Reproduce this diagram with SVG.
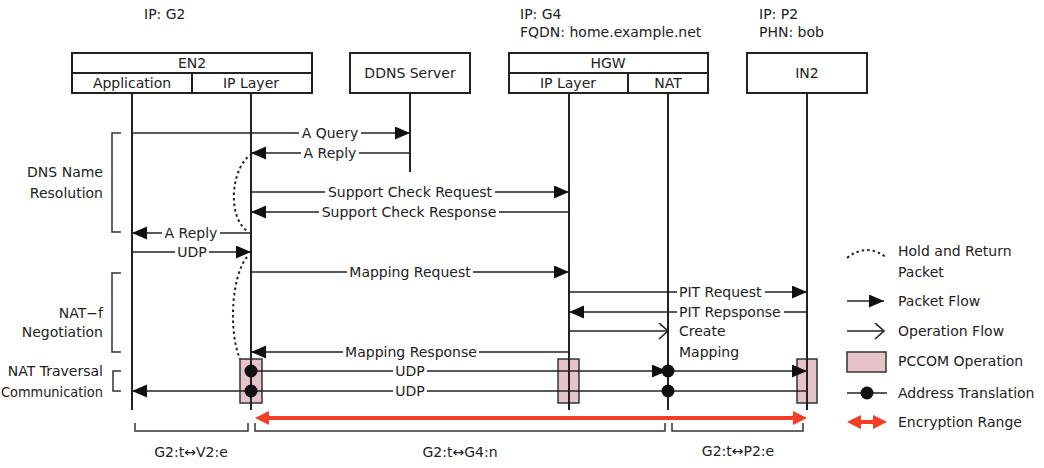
<svg xmlns="http://www.w3.org/2000/svg" width="1044" height="468" viewBox="0 0 1044 468">
<style>
text{font-family:"DejaVu Sans","Liberation Sans",sans-serif;font-size:14px;fill:#222}
.c{text-anchor:middle}
.e{text-anchor:end}
.bg{fill:#fff}
.box{fill:#fff;stroke:#222;stroke-width:2}
.life{stroke:#222;stroke-width:2;fill:none}
.ln{stroke:#222;stroke-width:1.6;fill:none}
.fa{marker-end:url(#fa)}
.oa{marker-end:url(#oa)}
.dot{fill:#111}
.pc{fill:#e6c3c8;stroke:#333;stroke-width:1.5}
.hold{stroke:#222;stroke-width:2;fill:none;stroke-dasharray:2.5,3}
.red{stroke:#f53d23;stroke-width:4;fill:none;marker-start:url(#ra);marker-end:url(#ra)}
.brk{stroke:#333;stroke-width:1.5;fill:none}
</style>
<defs>
<marker id="fa" markerWidth="16" markerHeight="14" refX="15" refY="6.5" orient="auto" markerUnits="userSpaceOnUse"><path d="M0,0 L15,6.5 L0,13 z" fill="#111"/></marker>
<marker id="oa" markerWidth="12" markerHeight="18" refX="10" refY="8" orient="auto" markerUnits="userSpaceOnUse"><path d="M1,0 L10,8 L1,16" fill="none" stroke="#222" stroke-width="1.6"/></marker>
<marker id="ra" markerWidth="14" markerHeight="14" refX="8" refY="7" orient="auto-start-reverse" markerUnits="userSpaceOnUse"><path d="M0,0 L14,7 L0,14 z" fill="#f53d23"/></marker>
</defs>

<!-- top annotations -->
<text x="144" y="19">IP: G2</text>
<text x="520" y="19">IP: G4</text>
<text x="520" y="37">FQDN: home.example.net</text>
<text x="759" y="19">IP: P2</text>
<text x="759" y="37">PHN: bob</text>

<!-- PCCOM operation boxes -->
<g id="pccom">
<rect class="pc" x="240" y="359" width="22" height="44"/>
<rect class="pc" x="558" y="359" width="21" height="44"/>
<rect class="pc" x="797" y="359" width="20" height="44"/>
</g>

<g id="EN2">
<rect class="box" x="72" y="53" width="240" height="40"/>
<line class="life" x1="72" y1="73" x2="312" y2="73"/>
<line class="life" x1="192" y1="73" x2="192" y2="93"/>
<text class="c" x="192" y="68">EN2</text>
<text class="c" x="132" y="88">Application</text>
<text class="c" x="251" y="88">IP Layer</text>
<line class="life" x1="132" y1="93" x2="132" y2="410"/>
<line class="life" x1="251" y1="93" x2="251" y2="410"/>
</g>

<g id="DDNS">
<rect class="box" x="350" y="53" width="120" height="40"/>
<text class="c" x="410" y="78">DDNS Server</text>
<line class="life" x1="410" y1="93" x2="410" y2="172"/>
</g>

<g id="HGW">
<rect class="box" x="509" y="53" width="199" height="40"/>
<line class="life" x1="509" y1="73" x2="708" y2="73"/>
<line class="life" x1="628" y1="73" x2="628" y2="93"/>
<text class="c" x="608" y="68">HGW</text>
<text class="c" x="568" y="88">IP Layer</text>
<text class="c" x="668" y="88">NAT</text>
<line class="life" x1="569" y1="93" x2="569" y2="410"/>
<line class="life" x1="668" y1="93" x2="668" y2="410"/>
</g>

<g id="IN2">
<rect class="box" x="747" y="53" width="120" height="40"/>
<text class="c" x="807" y="78">IN2</text>
<line class="life" x1="807" y1="93" x2="807" y2="410"/>
</g>

<!-- phase labels -->
<g id="phases">
<path class="brk" d="M121,133 H112 V232 H121"/>
<text class="e" x="103" y="177">DNS Name</text>
<text class="e" x="103" y="198">Resolution</text>
<path class="brk" d="M121,273 H112 V352 H121"/>
<text class="e" x="103" y="318">NAT−f</text>
<text class="e" x="103" y="337">Negotiation</text>
<path class="brk" d="M121,371 H113 V391 H121"/>
<text class="e" x="103" y="376">NAT Traversal</text>
<text x="1" y="397" textLength="102" lengthAdjust="spacingAndGlyphs">Communication</text>
</g>

<g id="connectors">
<line class="ln fa" x1="132" y1="133" x2="410" y2="133"/>
<rect class="bg" x="299" y="126" width="62" height="14"/>
<text class="c" x="330" y="138">A Query</text>
<line class="ln fa" x1="410" y1="153" x2="251" y2="153"/>
<rect class="bg" x="301" y="146" width="58" height="14"/>
<text class="c" x="330" y="158">A Reply</text>
<path class="hold" d="M252,154 C232,165 226,215 247,231"/>
<line class="ln fa" x1="251" y1="192" x2="569" y2="192"/>
<rect class="bg" x="325" y="185" width="170" height="14"/>
<text class="c" x="410" y="197">Support Check Request</text>
<line class="ln fa" x1="569" y1="212" x2="251" y2="212"/>
<rect class="bg" x="319" y="205" width="180" height="14"/>
<text class="c" x="409" y="217">Support Check Response</text>
<line class="ln fa" x1="251" y1="233" x2="132" y2="233"/>
<rect class="bg" x="162" y="226" width="58" height="14"/>
<text class="c" x="191" y="238">A Reply</text>
<line class="ln fa" x1="132" y1="252" x2="251" y2="252"/>
<rect class="bg" x="175" y="245" width="34" height="14"/>
<text class="c" x="192" y="257">UDP</text>
<path class="hold" d="M247,257 C232,275 228,330 240,359"/>
<line class="ln fa" x1="251" y1="272" x2="569" y2="272"/>
<rect class="bg" x="347" y="265" width="126" height="14"/>
<text class="c" x="410" y="277">Mapping Request</text>
<line class="ln fa" x1="569" y1="292" x2="807" y2="292"/>
<rect class="bg" x="677" y="285" width="88" height="14"/>
<text x="679" y="297">PIT Request</text>
<line class="ln fa" x1="807" y1="312" x2="569" y2="312"/>
<rect class="bg" x="677" y="305" width="107" height="14"/>
<text x="679" y="317">PIT Repsponse</text>
<line class="ln oa" x1="569" y1="331" x2="668" y2="331"/>
<text x="679" y="336">Create</text>
<text x="679" y="357">Mapping</text>
<line class="ln fa" x1="569" y1="352" x2="251" y2="352"/>
<rect class="bg" x="343" y="345" width="136" height="14"/>
<text class="c" x="411" y="357">Mapping Response</text>
<line class="ln fa" x1="251" y1="371" x2="667" y2="371"/>
<line class="ln fa" x1="668" y1="371" x2="807" y2="371"/>
<rect class="bg" x="393" y="364" width="34" height="14"/>
<text class="c" x="410" y="376">UDP</text>
<line class="ln fa" x1="807" y1="391" x2="132" y2="391"/>
<rect class="bg" x="393" y="384" width="34" height="14"/>
<text class="c" x="410" y="396">UDP</text>
<circle class="dot" cx="251" cy="371" r="6.5"/>
<circle class="dot" cx="251" cy="391" r="6.5"/>
<circle class="dot" cx="668" cy="371" r="6.5"/>
<circle class="dot" cx="668" cy="391" r="6.5"/>
<line class="red" x1="261" y1="418" x2="801" y2="418"/>
</g>

<!-- address ranges -->
<g id="ranges">
<path class="brk" d="M135,423 V431 H248 V423"/>
<path class="brk" d="M255,423 V431 H665 V423"/>
<path class="brk" d="M672,423 V431 H803 V423"/>
<text class="c" x="191" y="457">G2:t↔V2:e</text>
<text class="c" x="460" y="457">G2:t↔G4:n</text>
<text class="c" x="738" y="456">G2:t↔P2:e</text>
</g>

<g id="legend">
<path class="hold" d="M847,258 Q867,242 887,258"/>
<text x="898" y="256">Hold and Return</text>
<text x="898" y="277">Packet</text>
<line class="ln fa" x1="847" y1="301" x2="884" y2="301"/>
<text x="898" y="306">Packet Flow</text>
<line class="ln oa" x1="847" y1="331" x2="884" y2="331"/>
<text x="898" y="336">Operation Flow</text>
<rect class="pc" x="847" y="352" width="39" height="20"/>
<text x="898" y="366">PCCOM Operation</text>
<line class="ln" x1="847" y1="393" x2="887" y2="393"/>
<circle class="dot" cx="867" cy="393" r="6.5"/>
<text x="898" y="398">Address Translation</text>
<line class="red" x1="853" y1="422" x2="881" y2="422"/>
<text x="898" y="427">Encryption Range</text>
</g>
</svg>
